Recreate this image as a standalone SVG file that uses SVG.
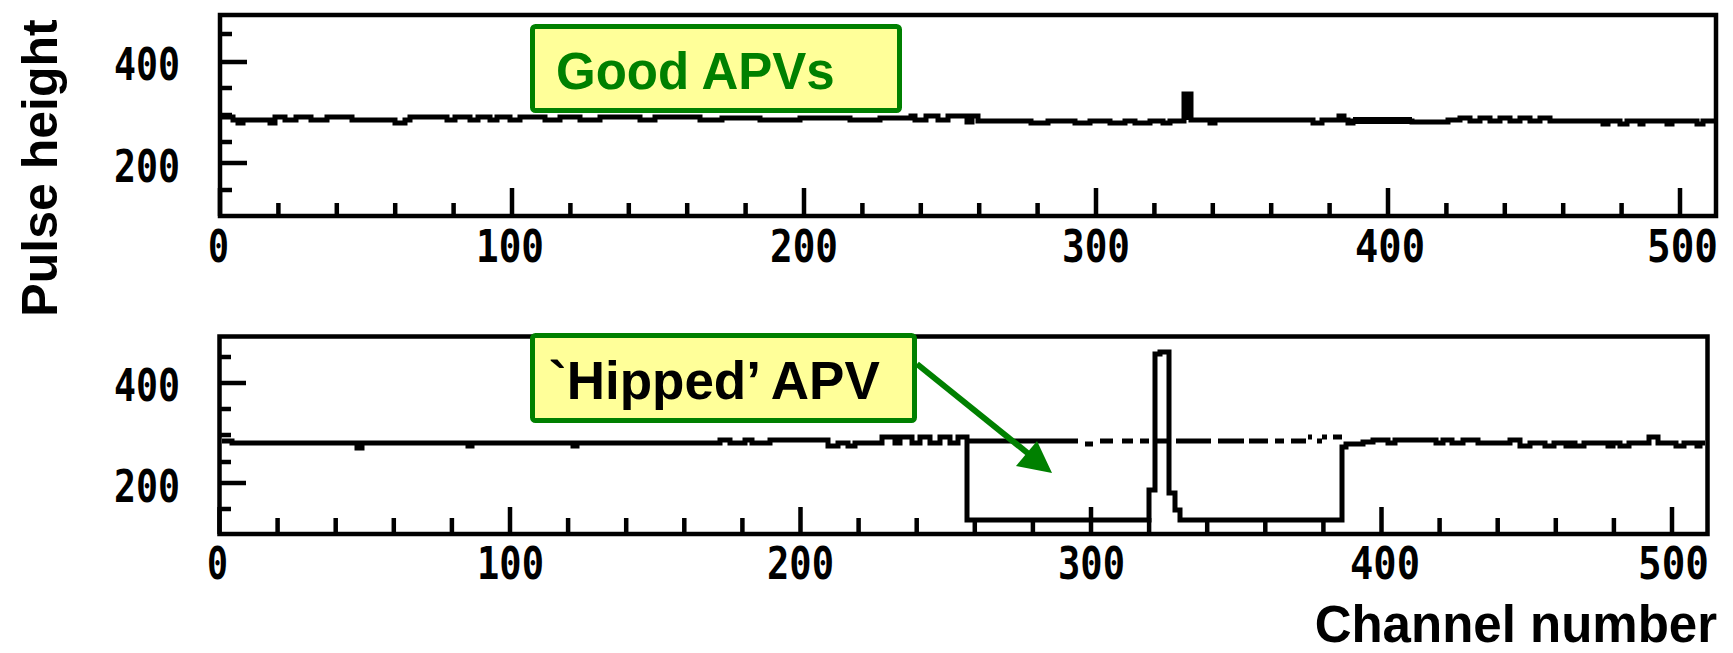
<svg xmlns="http://www.w3.org/2000/svg" width="1733" height="653" viewBox="0 0 1733 653">
<style>
.frame{fill:none;stroke:#000;stroke-width:4.5}
.tick{fill:none;stroke:#000;stroke-width:4.5}
.hist{fill:none;stroke:#000;stroke-width:5;stroke-linejoin:miter;stroke-linecap:butt}
.num{font-family:"DejaVu Sans Mono","Liberation Mono",monospace;font-weight:bold;font-size:44px;fill:#000}
.title{font-family:"Liberation Sans",Arial,sans-serif;font-weight:bold;font-size:50px;fill:#000}
.box{fill:#FFFF99;stroke:#008000;stroke-width:5}
.boxtext{font-family:"Liberation Sans",Arial,sans-serif;font-weight:bold}
</style>
<rect width="1733" height="653" fill="#fff"/>

<g id="axis-title-y">
<text class="title" transform="translate(57,168) rotate(-90)" text-anchor="middle">Pulse height</text>
</g>
<g id="axis-title-x">
<text class="title" x="1717" y="642" text-anchor="end" style="font-size:51px">Channel number</text>
</g>

<g id="panel-top">
<path class="hist" d="M222,117 H233 V120 H238 V123 H243 V120 H270 V123 H275 V117 H285 V120 H296 V117 H311 V120 H327 V117 H352 V120 H395 V123 H405 V120 H410 V117 H447 V120 H455 V117 H470 V120 H478 V117 H490 V120 H497 V117 H510 V120 H520 V117 H545 V120 H560 V117 H580 V120 H600 V117 H640 V120 H655 V117 H700 V120 H722 V118 H760 V120 H800 V118 H850 V120 H880 V118 H911 V116 H915 V120 H926 V116 H938 V120 H948 V116 H967 V122 H972 V116 H978 V121 H1031 V123 H1048 V121 H1075 V123 H1090 V121 H1110 V123 H1125 V121 H1135 V123 H1150 V121 H1163 V123 H1170 V121 H1184 V94 H1191 V120 H1210 V123 H1215 V120 H1313 V123 H1322 V120 H1339 V116 H1344 V120 H1348 V123 H1353 V121 H1412 V122 H1448 V120 H1460 V118 H1470 V121 H1480 V118 H1490 V121 H1500 V118 H1510 V121 H1520 V118 H1530 V121 H1540 V118 H1550 V121 H1603 V124 H1608 V121 H1620 V124 H1627 V121 H1640 V124 H1643 V121 H1667 V124 H1672 V121 H1697 V124 H1703 V121 H1714"/>
<rect x="1182" y="92" width="11" height="28" fill="#000"/>
<rect x="1353" y="117" width="59" height="7" fill="#000"/>
<rect x="220" y="15" width="1496" height="201" class="frame"/>
<path class="tick" d="M220,216 V188 M512,216 V188 M804,216 V188 M1096,216 V188 M1388,216 V188 M1680,216 V188
M278.4,216 V203 M336.8,216 V203 M395.2,216 V203 M453.6,216 V203 M570.4,216 V203 M628.8,216 V203 M687.2,216 V203 M745.6,216 V203 M862.4,216 V203 M920.8,216 V203 M979.2,216 V203 M1037.6,216 V203 M1154.4,216 V203 M1212.8,216 V203 M1271.2,216 V203 M1329.6,216 V203 M1446.4,216 V203 M1504.8,216 V203 M1563.2,216 V203 M1621.6,216 V203
M220,62 H247 M220,163 H247 M220,34 H232 M220,88 H232 M220,115 H232 M220,142 H232 M220,190 H232"/>
<text class="num" x="114" y="80" textLength="66" lengthAdjust="spacingAndGlyphs">400</text>
<text class="num" x="114" y="182" textLength="66" lengthAdjust="spacingAndGlyphs">200</text>
<text class="num" x="208" y="262" textLength="21" lengthAdjust="spacingAndGlyphs">0</text>
<text class="num" x="476" y="262" textLength="68" lengthAdjust="spacingAndGlyphs">100</text>
<text class="num" x="770" y="262" textLength="68" lengthAdjust="spacingAndGlyphs">200</text>
<text class="num" x="1062" y="262" textLength="68" lengthAdjust="spacingAndGlyphs">300</text>
<text class="num" x="1355" y="262" textLength="70" lengthAdjust="spacingAndGlyphs">400</text>
<text class="num" x="1647" y="262" textLength="71" lengthAdjust="spacingAndGlyphs">500</text>
</g>

<g id="panel-bottom">
<path class="hist" d="M222,441 H232 V443 H357 V448 H362 V443 H468 V446 H472 V443 H573 V446 H577 V443 H720 V440 H730 V443 H745 V440 H752 V443 H770 V440 H828 V446 H838 V443 H848 V446 H855 V443 H882 V437 H895 V443 H900 V437 H912 V443 H920 V437 H930 V443 H940 V437 H950 V443 H958 V437 H967 V520 H1149 V490 H1155 V354 H1160 V352 H1169 V493 H1175 V510 H1180 V520 H1342 V447 H1346 V444 H1363 V442 H1373 V440 H1388 V443 H1395 V440 H1436 V443 H1443 V440 H1452 V443 H1463 V440 H1478 V443 H1510 V440 H1520 V446 H1530 V443 H1545 V446 H1554 V443 H1566 V446 H1570 V443 H1575 V446 H1584 V443 H1608 V446 H1613 V443 H1620 V446 H1629 V443 H1649 V437 H1658 V443 H1676 V446 H1684 V443 H1697 V446 H1700 V443 H1705"/>
<path class="hist" d="M967,441 H1078 M1085,444 H1093 M1100,441 H1113 M1122,441 H1133 M1140,441 H1149 M1155,441 H1167 M1176,441 H1211 M1218,441 H1244 M1249,441 H1268 M1275,441 H1284 M1291,441 H1306 M1308,437 H1312 M1317,441 H1322 M1322,437 H1327 M1333,437 H1342"/>
<rect x="219.5" y="336.5" width="1488" height="197.5" class="frame"/>
<path class="tick" d="M219.5,534 V507 M510,534 V507 M800.5,534 V507 M1091,534 V507 M1381.5,534 V507 M1672,534 V507
M277.6,534 V518 M335.7,534 V518 M393.8,534 V518 M451.9,534 V518 M568.1,534 V518 M626.2,534 V518 M684.3,534 V518 M742.4,534 V518 M858.6,534 V518 M916.7,534 V518 M974.8,534 V518 M1032.9,534 V518 M1149.1,534 V518 M1207.2,534 V518 M1265.3,534 V518 M1323.4,534 V518 M1439.6,534 V518 M1497.7,534 V518 M1555.8,534 V518 M1613.9,534 V518
M219.5,383 H246 M219.5,483 H246 M219.5,357 H231 M219.5,409 H231 M219.5,435 H231 M219.5,462 H231 M219.5,509 H231"/>
<text class="num" x="114" y="401" textLength="66" lengthAdjust="spacingAndGlyphs">400</text>
<text class="num" x="114" y="502" textLength="66" lengthAdjust="spacingAndGlyphs">200</text>
<text class="num" x="207" y="579" textLength="21" lengthAdjust="spacingAndGlyphs">0</text>
<text class="num" x="477" y="579" textLength="67" lengthAdjust="spacingAndGlyphs">100</text>
<text class="num" x="767" y="579" textLength="67" lengthAdjust="spacingAndGlyphs">200</text>
<text class="num" x="1058" y="579" textLength="67" lengthAdjust="spacingAndGlyphs">300</text>
<text class="num" x="1350" y="579" textLength="70" lengthAdjust="spacingAndGlyphs">400</text>
<text class="num" x="1638" y="579" textLength="71" lengthAdjust="spacingAndGlyphs">500</text>
</g>

<g id="label-good">
<rect class="box" x="532.5" y="26.5" width="367" height="84" rx="3"/>
<text class="boxtext" x="556" y="89" font-size="51" fill="#008000">Good APVs</text>
</g>

<g id="label-hipped">
<rect class="box" x="532.5" y="335.5" width="382" height="85" rx="3"/>
<text class="boxtext" x="549" y="399" font-size="53" fill="#000">`Hipped’ APV</text>
</g>

<g id="connectors">
<line x1="917" y1="364" x2="1030" y2="455" stroke="#008000" stroke-width="6"/>
<polygon points="1052,473 1016,466 1037,441" fill="#008000"/>
</g>
</svg>
